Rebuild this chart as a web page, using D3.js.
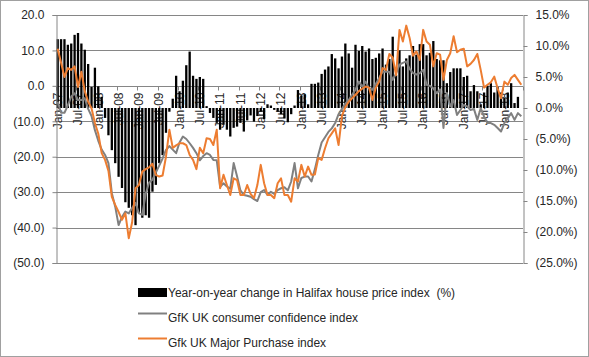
<!DOCTYPE html>
<html><head><meta charset="utf-8">
<script src="https://cdn.jsdelivr.net/npm/d3@7"></script>
<style>body{margin:0;background:#fff}svg{display:block}text{font-family:"Liberation Sans",Arial,sans-serif}</style>
</head><body><svg id="c" width="589" height="357"></svg>
<script>
const monthNames=["Jan","Feb","Mar","Apr","May","Jun","Jul","Aug","Sep","Oct","Nov","Dec"];
const categories=[];
for(let y=2007;y<=2018;y++){for(let m=0;m<12;m++){if(categories.length<138)categories.push(monthNames[m]+"-"+String(y).slice(2));}}
const tickLabels=["Jan-07","Jul-07","Jan-08","Jul-08","Jan-09","Jul-09","Jan-10","Jul-10","Jan-11","Jul-11","Jan-12","Jul-12","Jan-13","Jul-13","Jan-14","Jul-14","Jan-15","Jul-15","Jan-16","Jul-16","Jan-17","Jul-17","Jan-18"];
const houseYoY=[11.1,11.1,11.1,10.2,10.4,11.8,12.1,10.4,9.4,7.1,3.4,6.5,3.5,1.8,-1.6,-4.4,-6.8,-8.9,-11.1,-12.9,-15.2,-16.1,-17.3,-18.9,-16.9,-17.7,-17.3,-17.7,-13.5,-12.4,-8.9,-7.6,-4.0,-0.6,1.5,5.2,2.7,4.4,6.9,9.1,5.2,4.7,5.0,4.7,0.3,-0.8,-1.6,-2.4,-3.5,-2.7,-3.5,-4.6,-3.2,-3.0,-2.4,-3.8,-2.0,-1.2,-2.2,-1.3,-0.6,-1.8,0.6,0.4,-0.3,-0.6,-1.0,-1.7,-2.3,-1.0,0.4,2.9,2.0,2.2,0.6,3.9,3.9,4.1,5.5,6.2,6.7,8.7,8.0,6.4,8.3,10.4,8.8,6.5,10.2,9.2,10.0,9.1,9.6,7.9,8.1,8.8,9.6,7.0,7.9,11.5,5.3,9.3,6.7,8.0,8.5,10.0,8.6,10.3,10.3,8.5,8.9,10.8,7.9,7.7,7.7,4.0,5.8,6.4,6.4,6.4,5.0,5.2,2.7,3.7,2.7,0.6,2.5,3.6,4.0,2.5,3.4,2.5,1.6,2.5,4.0,0.8,1.8,null];
const consumerConfidence=[-4.5,-7.6,-7.6,-5.5,-3.0,-2.1,-4.0,-4.0,-3.5,-6.5,-8.5,-12.5,-15.5,-18,-19.5,-21.8,-30.3,-34.1,-39.3,-37,-35.5,-36,-34.5,-33,-36,-36.4,-30.5,-27.3,-26.5,-24.5,-22.5,-20.5,-18.1,-17,-18,-19,-16,-14.3,-15,-16.2,-17.5,-19,-21,-19.8,-19,-19.5,-20.9,-21,-28.5,-27.5,-28.4,-29,-21.8,-25.5,-29.5,-30.8,-31,-31.3,-32,-32.5,-30,-29.4,-30.8,-29.9,-30.5,-29.4,-28.9,-28.6,-29.5,-27,-21.8,-28.9,-26,-25.6,-25.6,-27,-23.5,-19.5,-16,-14.5,-13,-12,-10.5,-8,-6.5,-5,-4,-2.5,-1.1,1.2,-0.2,1.2,-0.7,-1.1,0.5,2.2,4.0,4.0,4.0,1.7,3.5,6.0,6.5,6.9,4.8,3.6,3.2,3.6,4.5,0.3,0,-0.7,-2.1,-1.0,-11.9,-2,-5.8,-4.0,-8.2,-6.8,-5.4,-5.8,-6.8,-6.5,-9.6,-6.3,-8.7,-10.5,-10.5,-11.0,-11.9,-12.9,-10.5,-9.1,-7.7,-9.6,-7.7,-8.6];
const majorPurchase=[10.5,6.5,2.5,5.0,4.5,5.5,-0.3,4.0,-1.5,-4.5,-6.3,-10.5,-13.5,-19,-20.9,-24,-31.3,-33.6,-35.6,-37.8,-36,-43,-38.5,-28.9,-28,-24.2,-23.5,-23,-22,-25.1,-25.6,-25.3,-20,-12.4,-17.5,-16.8,-16.2,-16.2,-16.7,-19.5,-20.9,-23.5,-17.5,-19,-14.8,-15,-16.7,-12.4,-28.9,-25.1,-28,-30.8,-26.1,-26.6,-30.8,-30.8,-28,-30.5,-31.7,-28,-22.3,-27.5,-30.8,-30.8,-31.7,-27.5,-26.1,-30.8,-30.8,-32.7,-26.1,-27.0,-22.3,-25.6,-22.8,-25.1,-25,-20.4,-20.9,-17.6,-14.8,-13.4,-12,-16.7,-8.5,-6,-4.5,-3.5,-2.5,-1.5,-0.8,-0.2,-0.5,-4.0,-0.5,1.2,5.0,4.5,9.0,8.0,3.0,15.8,12.5,17.0,13.5,8.5,9.7,7.3,15.8,12.5,11.6,5.5,9.2,8.8,1.7,7.3,9.2,14.0,9.5,10.2,10.5,5.5,6.2,7.3,9.0,4.5,-0.5,0.3,1.0,2.6,-0.7,-3.5,1.2,0.3,2.2,3.1,1.7,0.3];
const leftTicks=[20,10,0,-10,-20,-30,-40,-50];
const rightTicks=[15,10,5,0,-5,-10,-15,-20,-25];
const legendItems=["Year-on-year change in Halifax house price index  (%)","GfK UK consumer confidence index","Gfk UK Major Purchase index"];

const svg=d3.select("#c");
const W=589,H=357;
const L=56,R=523,T=15,B=263;
const grid="#868686", txt="#262626", FS=12;
svg.append("rect").attr("x",0.5).attr("y",0.5).attr("width",W-1).attr("height",H-1).attr("fill","#fff").attr("stroke","#a0a0a0");

const x=d3.scaleBand().domain(categories).range([L,R]).padding(0);
const cx=d=>x(d)+x.bandwidth()/2;
const yL=d3.scaleLinear().domain([-50,20]).range([B,T]);
const yR=d3.scaleLinear().domain([-25,15]).range([B,T]);
const fmtL=v=>v<0?"("+Math.abs(v).toFixed(1)+")":v.toFixed(1);
const fmtR=v=>v<0?"("+Math.abs(v).toFixed(1)+"%)":v.toFixed(1)+"%";

// gridlines
svg.append("g").selectAll("line").data(leftTicks).join("line")
 .attr("x1",L).attr("x2",R).attr("y1",d=>Math.round(yL(d))+0.5).attr("y2",d=>Math.round(yL(d))+0.5)
 .attr("stroke",grid).attr("stroke-width",1);

// category tick marks on zero line
const xi=d3.scaleLinear().domain([0,categories.length]).range([L,R]);
const y0=Math.round(yL(0))+0.5;
svg.append("g").selectAll("line").data(d3.range(0,categories.length+1,6)).join("line")
 .attr("x1",d=>Math.round(xi(d))+0.5).attr("x2",d=>Math.round(xi(d))+0.5)
 .attr("y1",y0).attr("y2",y0+4).attr("stroke",grid);

// category labels
svg.append("g").selectAll("text").data(tickLabels).join("text")
 .attr("transform",d=>`translate(${cx(d)},${y0+6}) rotate(-90)`)
 .attr("text-anchor","end").attr("dy","0.35em")
 .attr("font-size",FS).attr("fill",txt).text(d=>d);

// bars
const bw=x.bandwidth()*0.68;
svg.append("g").selectAll("rect").data(categories.map((c,i)=>({c,v:houseYoY[i]})).filter(d=>d.v!=null)).join("rect")
 .attr("x",d=>cx(d.c)-bw/2).attr("width",bw)
 .attr("y",d=>Math.min(yR(d.v),yR(0))).attr("height",d=>Math.abs(yR(d.v)-yR(0)))
 .attr("fill","#000");

// axes
const gl=svg.append("g").attr("transform",`translate(${L+0.5},0)`)
 .call(d3.axisLeft(yL).tickValues(leftTicks).tickFormat(fmtL).tickSize(4).tickPadding(8));
const gr=svg.append("g").attr("transform",`translate(${R+0.5},0)`)
 .call(d3.axisRight(yR).tickValues(rightTicks).tickFormat(fmtR).tickSize(4).tickPadding(8));
[gl,gr].forEach(g=>{g.select(".domain").attr("stroke",grid);g.selectAll(".tick line").attr("stroke",grid);
 g.selectAll(".tick text").attr("fill",txt).attr("font-size",FS).attr("font-family",'"Liberation Sans",Arial,sans-serif');});

// lines
const line=d3.line().x((d,i)=>cx(categories[i])).y(d=>yL(d));
svg.append("path").datum(consumerConfidence).attr("d",line).attr("fill","none").attr("stroke","#808080").attr("stroke-width",2).attr("stroke-linejoin","round");
svg.append("path").datum(majorPurchase).attr("d",line).attr("fill","none").attr("stroke","#ED7D31").attr("stroke-width",2).attr("stroke-linejoin","round");

// legend
const lg=svg.append("g");
lg.append("rect").attr("x",138).attr("y",288).attr("width",29).attr("height",9).attr("fill","#000");
lg.append("line").attr("x1",138).attr("x2",167).attr("y1",313.5).attr("y2",313.5).attr("stroke","#808080").attr("stroke-width",2);
lg.append("line").attr("x1",138).attr("x2",167).attr("y1",338.5).attr("y2",338.5).attr("stroke","#ED7D31").attr("stroke-width",2);
lg.selectAll("text").data(legendItems).join("text")
 .attr("x",168).attr("y",(d,i)=>292.5+i*25).attr("dy","0.35em")
 .attr("font-size",FS).attr("fill",txt).style("white-space","pre").text(d=>d);
</script></body></html>
